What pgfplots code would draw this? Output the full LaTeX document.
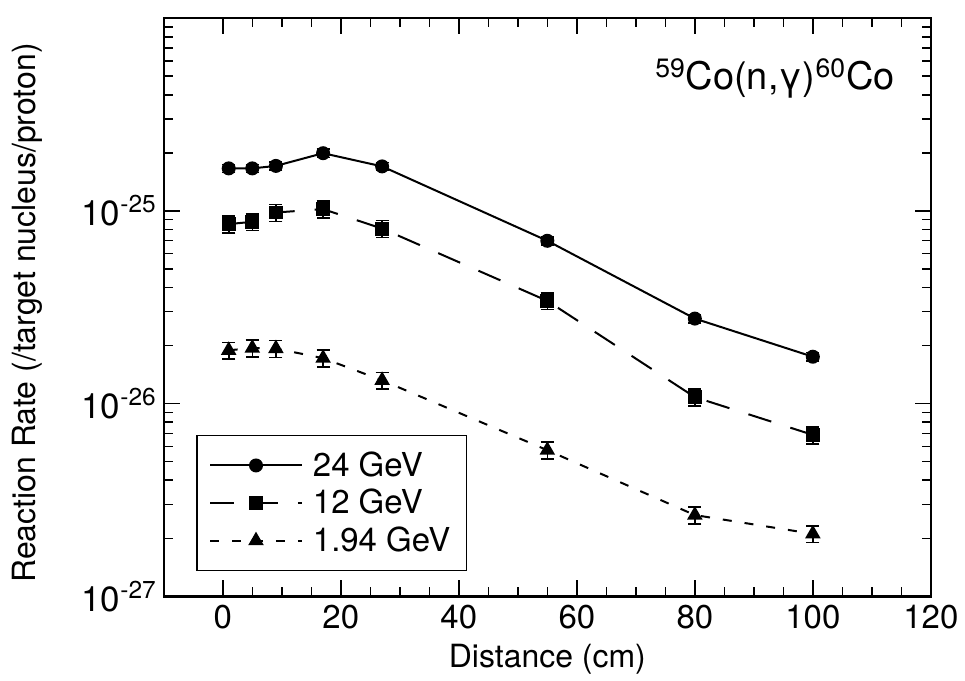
\documentclass[border=0pt]{standalone}
\usepackage{pgfplots}
\pgfplotsset{compat=1.18}
\usepackage{fontspec}
\setmainfont{TeX Gyre Heros}
\begin{document}
\begin{tikzpicture}[font=\fontsize{16}{19}\selectfont]
\begin{axis}[
  scale only axis, width=384pt, height=289.5pt,
  xmin=-10, xmax=120, ymin=1e-27, ymax=1e-24,
  ymode=log,
  xtick={0,20,...,120}, minor x tick num=3,
  ytick={1e-27,1e-26,1e-25},
  yticklabels={10\textsuperscript{-27},10\textsuperscript{-26},10\textsuperscript{-25}},
  minor ytick={2e-27,3e-27,4e-27,5e-27,6e-27,7e-27,8e-27,9e-27,
               2e-26,3e-26,4e-26,5e-26,6e-26,7e-26,8e-26,9e-26,
               2e-25,3e-25,4e-25,5e-25,6e-25,7e-25,8e-25,9e-25},
  /pgf/number format/assume math mode=true,
  tick align=inside,
  axis line style={line width=1.25pt},
  major tick length=8pt, minor tick length=4.5pt,
  every tick/.style={black, line width=0.8pt},
  xticklabel style={yshift=-1pt, font=\fontsize{16.5}{19}\selectfont},
  yticklabel style={xshift=0pt, font=\fontsize{17.5}{20}\selectfont},
  xlabel={Distance (cm)},
  ylabel={Reaction Rate (/target nucleus/proton)},
  every axis x label/.style={at={(axis description cs:0.5,0)}, anchor=center, yshift=-31.5pt},
  every axis y label/.style={at={(axis description cs:-0.178,0.49)}, rotate=90, anchor=center},
  legend style={at={(rel axis cs:0.0426,0.0437)}, anchor=south west, draw=black,
    line width=0.6pt, inner xsep=6pt, inner ysep=6pt, row sep=1pt,
    font=\fontsize{16.5}{19}\selectfont, cells={anchor=west}},
  legend image code/.code={\draw[mark repeat=2,mark phase=2,#1] plot coordinates {(0pt,0pt) (23pt,0pt) (46pt,0pt)};},
  error bars/y dir=both, error bars/y explicit relative,
  error bars/error bar style={line width=0.8pt, solid},
  error bars/error mark options={rotate=90, mark size=3.3pt, line width=0.8pt, solid},
]
\addplot[black, line width=1pt, mark=*, mark size=3pt, mark options={solid}]
  coordinates {(1,1.66e-25) +- (0,0.05) (5,1.66e-25) +- (0,0.05) (9,1.71e-25) +- (0,0.05)
    (17,1.99e-25) +- (0,0.05) (27,1.70e-25) +- (0,0.05) (55,6.99e-26) +- (0,0.05)
    (80,2.76e-26) +- (0,0.05) (100,1.75e-26) +- (0,0.05)};
\addlegendentry{\hspace{3pt}24 GeV}
\addplot[black, line width=1pt, dash pattern=on 12pt off 10pt, mark=square*, mark size=3pt, mark options={solid}]
  coordinates {(1,8.53e-26) +- (0,0.1) (5,8.77e-26) +- (0,0.1) (9,9.8e-26) +- (0,0.1)
    (17,1.02e-25) +- (0,0.1) (27,8.09e-26) +- (0,0.1) (55,3.41e-26) +- (0,0.1)
    (80,1.08e-26) +- (0,0.1) (100,6.88e-27) +- (0,0.1)};
\addlegendentry{\hspace{3pt}12 GeV}
\addplot[black, line width=1pt, dash pattern=on 4.5pt off 6.5pt, mark=triangle*, mark size=3.5pt, mark options={solid}]
  coordinates {(1,1.89e-26) +- (0,0.1) (5,1.94e-26) +- (0,0.1) (9,1.93e-26) +- (0,0.1)
    (17,1.72e-26) +- (0,0.1) (27,1.32e-26) +- (0,0.1) (55,5.73e-27) +- (0,0.1)
    (80,2.64e-27) +- (0,0.1) (100,2.11e-27) +- (0,0.1)};
\addlegendentry{\hspace{3pt}1.94 GeV}
\node[anchor=base east, font=\fontsize{19}{22}\selectfont] at (rel axis cs:0.962,0.876)
  {\textsuperscript{59}Co(n,γ)\textsuperscript{60}Co};
\end{axis}
\path (current axis.south west) ++(-82pt,-41pt);
\path (current axis.north east) ++(16.5pt,9pt);
\end{tikzpicture}
\end{document}
